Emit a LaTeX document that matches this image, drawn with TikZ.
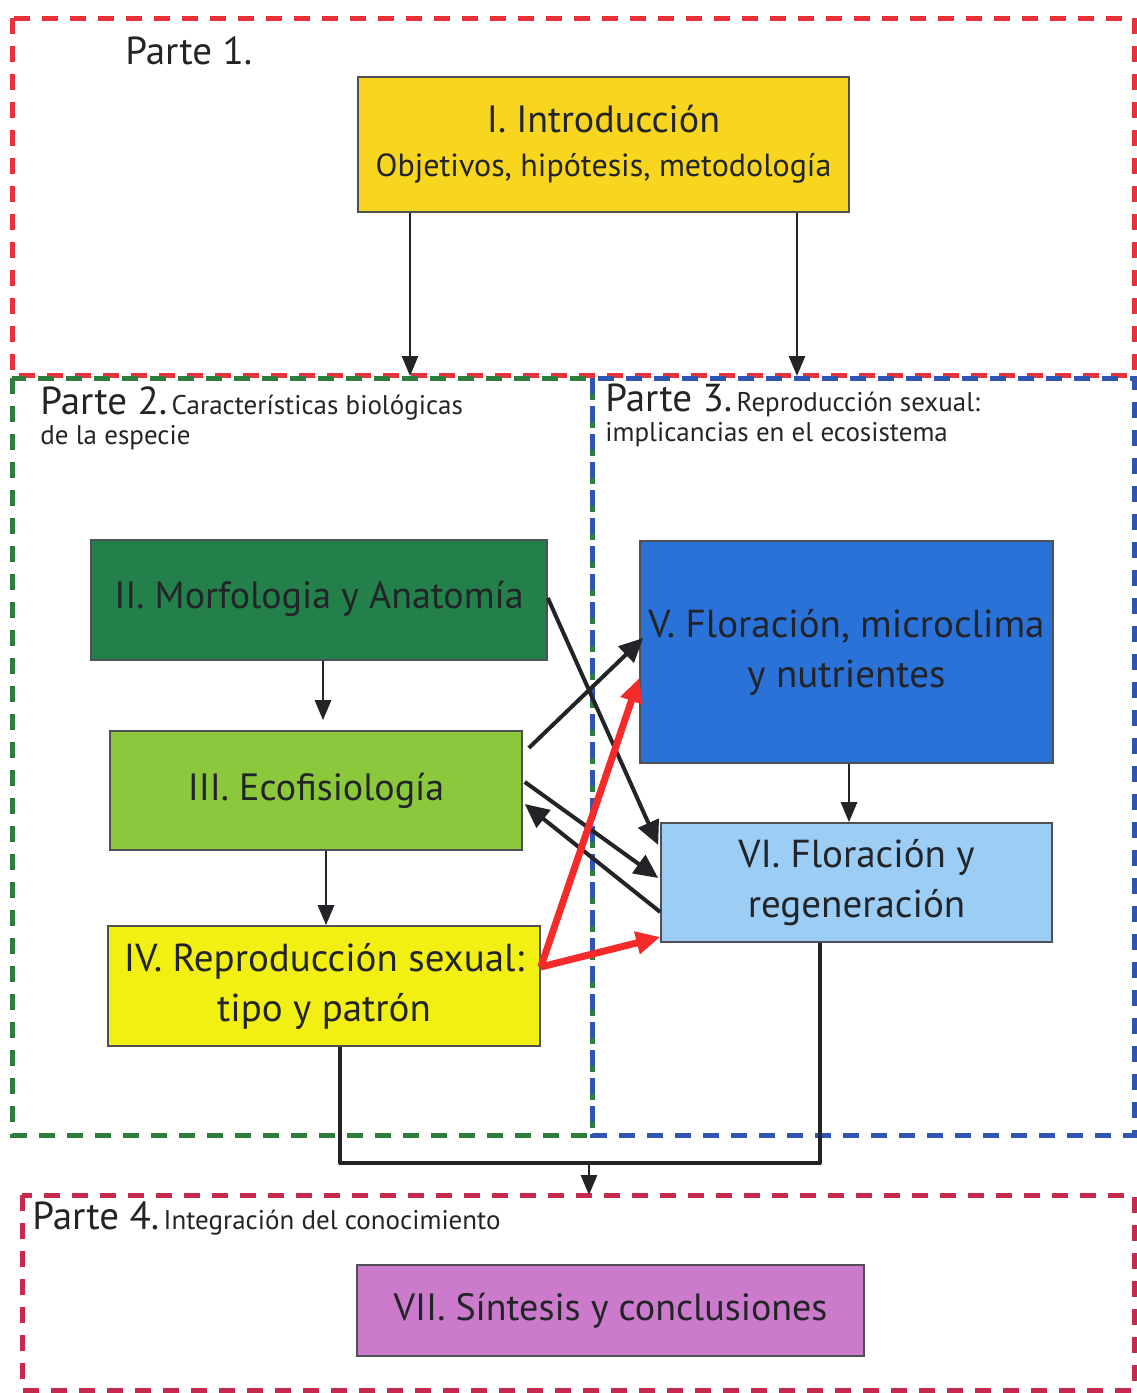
\documentclass[tikz,border=0pt]{standalone}
\usepackage{fontspec}
\setmainfont{PT Sans}
\usetikzlibrary{arrows.meta,calc}
\definecolor{txt}{HTML}{222428}
\definecolor{redP}{HTML}{E8313A}
\definecolor{greenP}{HTML}{2E7D3C}
\definecolor{blueP}{HTML}{2F55B0}
\definecolor{crimP}{HTML}{C8294F}
\definecolor{cI}{HTML}{F8D51E}
\definecolor{cII}{HTML}{23804A}
\definecolor{cIII}{HTML}{8CC83C}
\definecolor{cIV}{HTML}{F2F013}
\definecolor{cV}{HTML}{2A72D8}
\definecolor{cVI}{HTML}{9CCDF4}
\definecolor{cVII}{HTML}{CC7ACB}
\definecolor{redA}{HTML}{F52A2A}
\tikzset{
  part/.style={line width=2.5pt, dash pattern=on 8pt off 6pt},
  box/.style={draw=txt!80, line width=0.8pt, text=txt, align=center, inner sep=0pt, font=\fontsize{19}{23}\selectfont},
  conn/.style={draw=txt, line width=2pt, -{Triangle[length=12pt,width=11pt]}},
  vconn/.style={draw=txt, line width=1.4pt, -{Triangle[length=10pt,width=8pt]}},
  redconn/.style={draw=redA, line width=3.5pt, -{Triangle[length=12pt,width=11pt]}},
  plabel/.style={anchor=base west, inner sep=0pt, text=txt},
  big/.style={font=\fontsize{19.5}{21}\selectfont},
  small/.style={font=\fontsize{13.5}{15}\selectfont}
}
\begin{document}
\begin{tikzpicture}[x=0.5pt,y=-0.5pt]
\useasboundingbox (0,0) rectangle (1136,1393);
% part frames
\draw[part,draw=redP] (12,18) rectangle (1134,375);
\draw[part,draw=greenP] (12,378) rectangle (592,1135);
\draw[part,draw=blueP] (592,378) rectangle (1134,1135);
\draw[part,draw=crimP] (22,1195) rectangle (1134,1390);
% part labels
\node[plabel,big] (p1) at (125,64) {Parte 1.};
\node[plabel] (p2a) at (40,414) {{\fontsize{19.5}{21}\selectfont Parte 2.}{\fontsize{13.5}{15}\selectfont\,Características biológicas}};
\node[plabel,small] (p2b) at (40,444) {de la especie};
\node[plabel] (p3a) at (605,411) {{\fontsize{19.5}{21}\selectfont Parte 3.}{\fontsize{13.5}{15}\selectfont\,Reproducción sexual:}};
\node[plabel,small] (p3b) at (605,441) {implicancias en el ecosistema};
\node[plabel] (p4a) at (32,1229) {{\fontsize{19.5}{21}\selectfont Parte 4.}{\fontsize{13.5}{15}\selectfont\,Integración del conocimiento}};
% boxes
\node[box,fill=cI,minimum width=245.5pt,minimum height=67.5pt] (I) at (603.5,144.5)
  {\raisebox{3pt}{I. Introducción}\\[-4pt]{\fontsize{16}{18}\selectfont Objetivos, hipótesis, metodología}};
\node[box,fill=cII,minimum width=228pt,minimum height=60pt] (II) at (319,600)
  {\raisebox{5pt}{II. Morfologia y Anatomía}};
\node[box,fill=cIII,minimum width=206pt,minimum height=59.5pt] (III) at (316,790.5)
  {\raisebox{2pt}{III. Ecofisiología}};
\node[box,fill=cIV,minimum width=216pt,minimum height=60pt,font=\fontsize{19.5}{25}\selectfont] (IV) at (324,986)
  {\raisebox{-2pt}{IV. Reproducción sexual:}\\\raisebox{-2pt}{tipo y patrón}};
\node[box,fill=cV,minimum width=206.5pt,minimum height=111pt,font=\fontsize{19.5}{25}\selectfont] (V) at (846.5,652)
  {\raisebox{3pt}{V. Floración, microclima}\\\raisebox{3pt}{y nutrientes}};
\node[box,fill=cVI,minimum width=195.5pt,minimum height=59.5pt,font=\fontsize{19.5}{25}\selectfont] (VI) at (856.5,882.5)
  {VI. Floración y\\regeneración};
\node[box,fill=cVII,minimum width=253.5pt,minimum height=45.5pt] (VII) at (610.5,1310.5)
  {\raisebox{1pt}{VII. Síntesis y conclusiones}};
% free ends on frames
\coordinate (t2) at (410,376);
\coordinate (t3) at (797,376);
\coordinate (b4) at (589,1195);
\coordinate (jl) at (340,1163);
\coordinate (jr) at (820,1163);
\coordinate (jm) at (589,1163);
% connectors
\draw[vconn] (I.south -| t2) -- (t2);
\draw[vconn] (I.south -| t3) -- (t3);
\draw[vconn] (II.south -| 323,0) -- ([yshift=5pt]III.north -| 323,0);
\draw[vconn] (III.south -| 326,0) -- (IV.north -| 326,0);
\draw[vconn] (V.south -| 849,0) -- (VI.north -| 849,0);
\draw[conn] (II.east |- 0,598) -- ([xshift=-1pt]VI.west |- 0,845);
\draw[conn] ([xshift=3pt]III.east |- 0,748) -- ([xshift=2pt]V.west |- 0,638);
\draw[conn] ([xshift=1pt]III.east |- 0,782) -- ([xshift=-1pt]VI.west |- 0,878);
\draw[conn] (VI.west |- 0,912) -- ([xshift=1pt]III.east |- 0,804);
\draw[redconn] (IV.east |- 0,967) -- (V.west |- 0,678);
\draw[redconn] (IV.east |- 0,967) -- (VI.west |- 0,937);
\draw[draw=txt, line width=2pt, line join=round] (IV.south -| jl) -- (jl) -- (jr) -- (VI.south -| jr);
\draw[vconn] (jm) -- (b4);
\end{tikzpicture}
\end{document}
